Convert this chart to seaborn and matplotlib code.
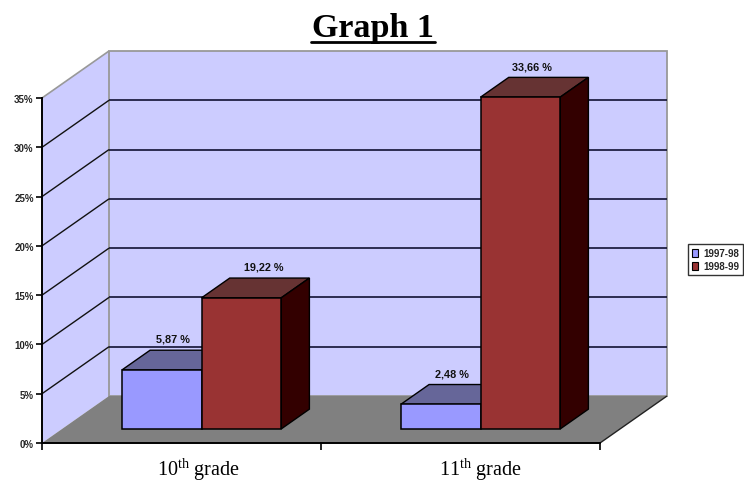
import matplotlib
matplotlib.use("Agg")
import matplotlib.pyplot as plt
from matplotlib.patches import Polygon
from matplotlib.transforms import Affine2D, ScaledTranslation
import pandas as pd
import seaborn as sns

grades = ["10th", "11th"]
grade_labels = [r"10$^{\mathrm{th}}$ grade", r"11$^{\mathrm{th}}$ grade"]
series = ["1997-98", "1998-99"]
values_9798 = [5.98, 2.5]
values_9899 = [13.3, 33.66]
labels_9798 = ["5,87 %", "2,48 %"]
labels_9899 = ["19,22 %", "33,66 %"]
y_ticks = [0, 5, 10, 15, 20, 25, 30, 35]

W, H = 744, 481
sns.set_theme(style="white")
plt.rcParams["font.family"] = ["Liberation Sans", "DejaVu Sans"]
plt.rcParams["mathtext.fontset"] = "custom"
plt.rcParams["mathtext.rm"] = "Liberation Serif"

fig = plt.figure(figsize=(W / 100, H / 100), dpi=100, facecolor="white")
ax = fig.add_axes([42 / W, (H - 444) / H, 558 / W, 345 / H])
ax.patch.set_visible(False)

df = pd.DataFrame({
    "grade": grades * 2,
    "season": [series[0]] * 2 + [series[1]] * 2,
    "value": values_9798 + values_9899,
})
colors = ["#9999FF", "#993333"]
tops = ["#666699", "#663333"]
sides = ["#333366", "#330000"]
sns.barplot(data=df, x="grade", y="value", hue="season", hue_order=series,
            palette=colors, saturation=1, width=0.571, gap=0,
            edgecolor="black", linewidth=1.1, ax=ax, legend=False)
ax.set_xlim(-0.5, 1.5)
ax.set_ylim(0, 35)
ax.set_xlabel("")
ax.set_ylabel("")

DX, DY = 67 / 279, 47 / (345 / 35)


def proj(x, y, d):
    return (x + d * DX, y + d * DY)


def poly(points, face, edge, lw, z):
    ax.add_patch(Polygon(points, closed=True, facecolor=face, edgecolor=edge,
                         linewidth=lw, zorder=z, clip_on=False, joinstyle="miter"))


def line(p, q, color, lw, z=1.5):
    ax.plot([p[0], q[0]], [p[1], q[1]], color=color, lw=lw, zorder=z,
            clip_on=False, solid_capstyle="butt")


x0, x1 = -0.5, 1.5
# walls and floor
poly([proj(x0, 0, 0), proj(x0, 0, 1), proj(x0, 35, 1), proj(x0, 35, 0)], "#CCCCFF", "none", 0, 0.5)
poly([proj(x0, 0, 1), proj(x1, 0, 1), proj(x1, 35, 1), proj(x0, 35, 1)], "#CCCCFF", "#999999", 1.3, 0.6)
poly([proj(x0, 0, 0), proj(x1, 0, 0), proj(x1, 0, 1), proj(x0, 0, 1)], "#808080", "none", 0, 0.7)
line(proj(x0, 35, 0), proj(x0, 35, 1), "#999999", 1.2)
for v in y_ticks[1:-1]:
    line(proj(x0, v, 0), proj(x0, v, 1), "#111111", 1.0)
    line(proj(x0, v, 1), proj(x1, v, 1), "#111133", 1.2)
line(proj(x1, 0, 0), proj(x1, 0, 1), "#222222", 1.0)

# bars: front faces from seaborn, moved back into the floor, with top and side faces
D0, D1 = 0.30, 0.72
shift = Affine2D().translate(D0 * DX, D0 * DY)
label_sets = [labels_9798, labels_9899]
nudges = [[11, 11], [22, 12]]
for i, container in enumerate(ax.containers):
    z = 3 + i
    for j, bar in enumerate(container):
        bar.set_transform(shift + ax.transData)
        bar.set_zorder(z + 0.2)
        bar.set_clip_on(False)
        l, r, t = bar.get_x(), bar.get_x() + bar.get_width(), bar.get_height()
        poly([proj(l, t, D0), proj(r, t, D0), proj(r, t, D1), proj(l, t, D1)], tops[i], "black", 1.0, z)
        poly([proj(r, 0, D0), proj(r, t, D0), proj(r, t, D1), proj(r, 0, D1)], sides[i], "black", 1.0, z)
        ax.annotate(label_sets[i][j], xy=proj((l + r) / 2, t, D0), xytext=(nudges[i][j] * 0.72, 31 * 0.72),
                    textcoords="offset points", ha="center", va="center", fontsize=7.8,
                    fontweight="bold", color="#111111", zorder=6, annotation_clip=False)

# axes furniture
for s in ["top", "right"]:
    ax.spines[s].set_visible(False)
for s in ["left", "bottom"]:
    ax.spines[s].set_color("black")
    ax.spines[s].set_linewidth(1.4)
    ax.spines[s].set_zorder(5)
ax.set_yticks(y_ticks, [f"{v}%" for v in y_ticks])
ax.tick_params(axis="y", length=4, width=1.2, color="black", left=True, pad=2, labelsize=7)
for t in ax.get_yticklabels():
    t.set_fontweight("bold")
ax.set_xticks([0, 1], grade_labels)
ax.set_xticks([-0.5, 0.5, 1.5], minor=True)
ax.tick_params(axis="x", which="minor", length=5, width=1.2, color="black", bottom=True)
ax.tick_params(axis="x", which="major", length=0, pad=8.5, labelsize=14.5, labelcolor="black")
for t, px in zip(ax.get_xticklabels(), [16.5, 19.5]):
    t.set_transform(t.get_transform() + ScaledTranslation(px / 100, 0, fig.dpi_scale_trans))
    t.set_family("Liberation Serif")

# title
fig.text(373 / W, 1 - 28 / H, "Graph 1", ha="center", va="center", fontsize=24.5,
         fontweight="bold", family="Liberation Serif", color="black")
fig.add_artist(plt.Line2D([311 / W, 435 / W], [1 - 43 / H] * 2, color="black", lw=2))

# legend
handles = [plt.Rectangle((0, 0), 1, 1, facecolor=c, edgecolor="black", linewidth=0.8) for c in colors]
leg = ax.legend(handles, series, loc="upper left", bbox_to_anchor=(688 / W, 1 - 245 / H),
                bbox_transform=fig.transFigure, fontsize=7, frameon=True, fancybox=False,
                edgecolor="black", facecolor="white", borderaxespad=0, handlelength=0.6,
                handleheight=0.9, handletextpad=0.6, borderpad=0.4, labelspacing=0.35)
leg.get_frame().set_linewidth(1.0)
for t in leg.get_texts():
    t.set_fontweight("bold")

fig.savefig("out.png", dpi=100)
